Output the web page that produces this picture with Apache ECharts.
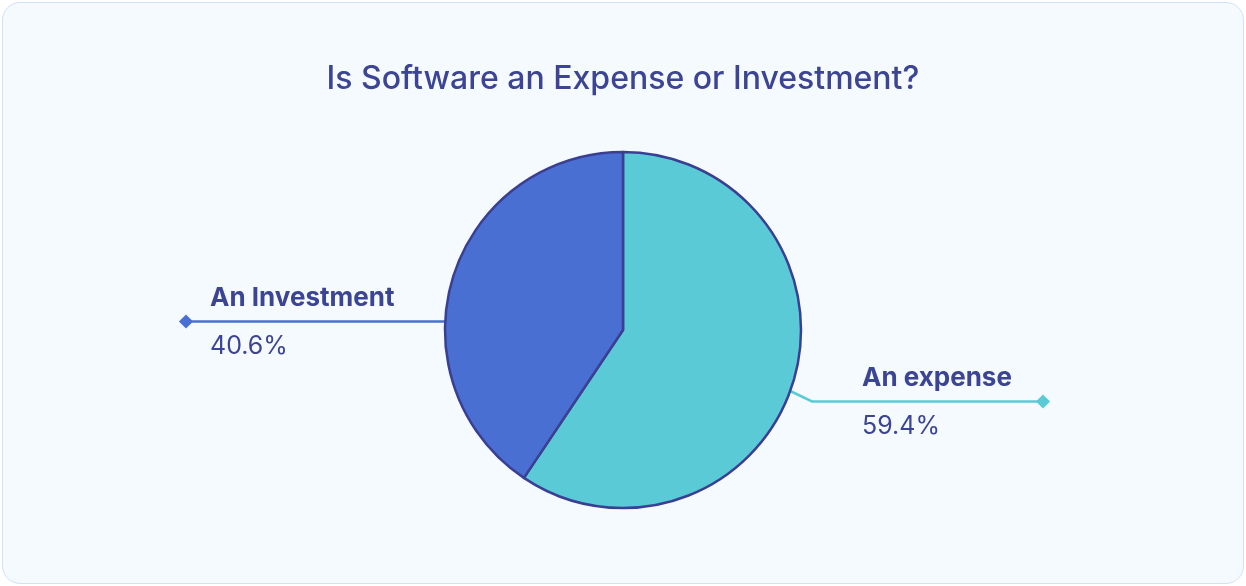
<!DOCTYPE html>
<html>
<head>
<meta charset="utf-8">
<title>Is Software an Expense or Investment?</title>
<script src="https://cdn.jsdelivr.net/npm/echarts@6/dist/echarts.min.js"></script>
<style>
  html, body { margin: 0; padding: 0; background: #ffffff; }
  #card {
    position: absolute; left: 2px; top: 2px;
    width: 1240px; height: 580px;
    border: 1px solid #d3e1f7; border-radius: 18px;
    background: #f5fafe;
  }
  #chart { position: absolute; left: 0; top: 0; width: 1246px; height: 586px; }
</style>
</head>
<body>
<div id="card"></div>
<div id="chart"></div>
<script>
// Survey answers: share of respondents (%)
const categories = ['An expense', 'An Investment'];
const shares = [59.4, 40.6];
const sliceColors = ['#5acbd6', '#4a6fd2'];

const INK = '#3c4494';
const PIE_CENTER = [623, 330];
const PIE_RADIUS = 178;

// Where each callout sits, relative to the pie centre / canvas
const callouts = [
  { side: 1,  startDy: 61,   lineDy: 71.5, kneeX: 812,  textX: 862, tipX: 1043 },
  { side: -1, startDy: -8.5, lineDy: -8.5, kneeX: null, textX: 210, tipX: 186 }
];

const chart = echarts.init(document.getElementById('chart'), null, { renderer: 'canvas' });

function edgeX(side, dy) {
  return PIE_CENTER[0] + side * Math.sqrt(PIE_RADIUS * PIE_RADIUS - dy * dy);
}

const diamonds = callouts.map((c, i) => ({
  type: 'rect',
  x: c.tipX,
  y: PIE_CENTER[1] + c.lineDy,
  rotation: Math.PI / 4,
  shape: { x: -5, y: -5, width: 10, height: 10 },
  style: { fill: sliceColors[i] },
  z: 10
}));

chart.setOption({
  animation: false,
  backgroundColor: 'transparent',
  title: {
    text: 'Is Software an Expense or Investment?',
    left: 'center',
    top: 55,
    textStyle: {
      color: INK,
      fontFamily: 'Inter',
      fontSize: 32,
      fontWeight: 500,
      lineHeight: 38
    }
  },
  graphic: diamonds,
  series: [{
    type: 'pie',
    center: PIE_CENTER,
    radius: PIE_RADIUS,
    startAngle: 90,
    clockwise: true,
    data: categories.map((name, i) => ({
      name: name,
      value: shares[i],
      itemStyle: { color: sliceColors[i] }
    })),
    itemStyle: { borderColor: '#3a3f93', borderWidth: 2.5 },
    label: {
      show: true,
      position: 'outside',
      formatter: p => '{n|' + p.name + '}\n{v|' + p.value.toFixed(1) + '%}',
      rich: {
        n: { fontFamily: 'Inter', fontSize: 26, fontWeight: 'bold', color: INK, lineHeight: 48 },
        v: { fontFamily: 'Inter', fontSize: 25, fontWeight: 'normal', color: INK, lineHeight: 48 }
      }
    },
    labelLine: { show: true, lineStyle: { width: 2.5 } },
    labelLayout: function (p) {
      const c = callouts[p.dataIndex];
      const y = PIE_CENTER[1] + c.lineDy;
      const start = [edgeX(c.side, c.startDy), PIE_CENTER[1] + c.startDy];
      const pts = c.kneeX === null
        ? [start, [c.tipX, y]]
        : [start, [c.kneeX, y], [c.tipX, y]];
      return {
        x: c.textX,
        y: y + 1,
        align: 'left',
        verticalAlign: 'middle',
        labelLinePoints: pts
      };
    }
  }]
});
</script>
</body>
</html>
